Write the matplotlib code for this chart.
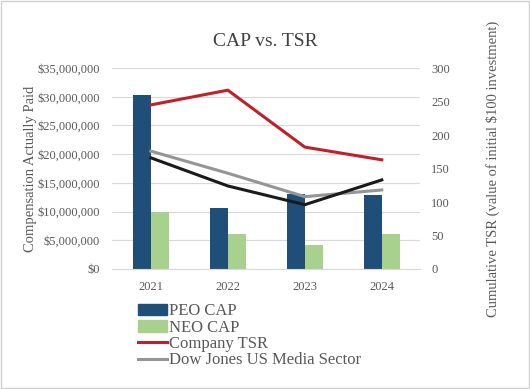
import matplotlib.pyplot as plt
import matplotlib.ticker as mticker
from matplotlib.patches import Patch
from matplotlib.lines import Line2D
import numpy as np

plt.rcParams['font.family'] = ['Liberation Serif', 'DejaVu Serif']

years = ['2021', '2022', '2023', '2024']
peo_cap = [30.3e6, 10.7e6, 13.05e6, 12.9e6]
neo_cap = [10.0e6, 6.15e6, 4.15e6, 6.15e6]
company_tsr = [245, 267, 182, 163]
dow_jones_media = [176, 143, 108, 118]
other_tsr = [166, 124, 96, 133]

navy = '#1F4E79'
green = '#A9D18E'
red = '#C0202A'
gray = '#959595'
txt = '#595959'

fig = plt.figure(figsize=(5.30, 3.89), dpi=100)
fig.patches.append(plt.Rectangle((0.002, 0.002), 0.996, 0.996, transform=fig.transFigure,
                                 fill=False, edgecolor='#d0d0d0', linewidth=1))
ax = fig.add_axes([0.212, 0.3085, 0.581, 0.5165])
x = np.arange(len(years))
w = 0.235
ax.bar(x - w / 2, peo_cap, w, color=navy, zorder=2)
ax.bar(x + w / 2, neo_cap, w, color=green, zorder=2)
ax.set_xlim(-0.5, 3.5)
ax.set_ylim(0, 35e6)
ax.yaxis.set_major_locator(mticker.MultipleLocator(5e6))
ax.yaxis.set_major_formatter(mticker.FuncFormatter(lambda v, p: '${:,.0f}'.format(v)))
ax.grid(axis='y', color='#d9d9d9', linewidth=0.8, zorder=0)
ax.set_axisbelow(True)
ax.set_xticks(x)
ax.set_xticklabels(years)
for s in ax.spines.values():
    s.set_visible(False)
ax.spines['bottom'].set_visible(True)
ax.spines['bottom'].set_color('#d9d9d9')
ax.tick_params(axis='y', length=0, labelsize=9, colors=txt, pad=9)
ax.tick_params(axis='x', length=0, labelsize=9, colors=txt, pad=9)
ax.set_ylabel('Compensation Actually Paid', fontsize=10.5, color=txt, labelpad=0)

ax2 = ax.twinx()
ax2.plot(x, company_tsr, color=red, linewidth=2.2)
ax2.plot(x, dow_jones_media, color=gray, linewidth=2.2)
ax2.plot(x, other_tsr, color='#1a1a1a', linewidth=2.2)
ax2.set_ylim(0, 300)
ax2.yaxis.set_major_locator(mticker.MultipleLocator(50))
for s in ax2.spines.values():
    s.set_visible(False)
ax2.tick_params(length=0, labelsize=9, colors=txt, pad=8)
ax2.set_ylabel('Cumulative TSR (value of initial $100 investment)', fontsize=10.5,
               color=txt, labelpad=26)

fig.text(0.5, 0.893, 'CAP vs. TSR', ha='center', va='center', fontsize=14, color='#404040')

handles = [Patch(color=navy), Patch(color=green),
           Line2D([], [], color=red, linewidth=2.2),
           Line2D([], [], color=gray, linewidth=2.2)]
labels = ['PEO CAP', 'NEO CAP', 'Company TSR', 'Dow Jones US Media Sector']
fig.legend(handles, labels, loc='upper left', bbox_to_anchor=(0.248, 0.237), frameon=False,
           fontsize=12, handlelength=1.75, handletextpad=0.1, labelspacing=0.02,
           borderaxespad=0, labelcolor=txt)

fig.savefig('out.png', dpi=100)
